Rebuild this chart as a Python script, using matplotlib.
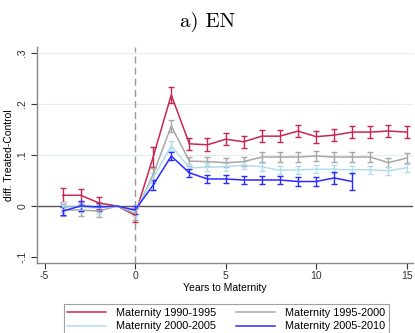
import matplotlib.pyplot as plt
import numpy as np

plt.rcParams['font.family'] = ['Liberation Sans', 'DejaVu Sans']

years = [-4, -3, -2, -1, 0, 1, 2, 3, 4, 5, 6, 7, 8, 9, 10, 11, 12, 13, 14, 15]

m1990 = [0.021, 0.021, 0.006, 0.0, -0.018, 0.096, 0.218, 0.122, 0.120, 0.131, 0.126, 0.137,
         0.137, 0.147, 0.136, 0.139, 0.145, 0.145, 0.147, 0.145]
m1990_err = [0.014, 0.013, 0.012, np.nan, 0.014, 0.02, 0.016, 0.012, 0.013, 0.012, 0.012, 0.012,
             0.012, 0.012, 0.012, 0.012, 0.012, 0.012, 0.012, 0.012]

m1995 = [-0.008, -0.008, -0.010, 0.0, -0.015, 0.062, 0.157, 0.088, 0.087, 0.085, 0.087, 0.096,
         0.096, 0.096, 0.098, 0.096, 0.096, 0.096, 0.085, 0.094]
m1995_err = [0.012, 0.012, 0.012, np.nan, 0.012, 0.012, 0.011, 0.009, 0.009, 0.009, 0.009, 0.009,
             0.009, 0.009, 0.009, 0.009, 0.009, 0.009, 0.009, 0.009]

m2000 = [-0.002, -0.002, -0.004, 0.0, -0.010, 0.055, 0.118, 0.075, 0.076, 0.077, 0.080, 0.077,
         0.070, 0.071, 0.072, 0.072, 0.071, 0.071, 0.069, 0.075]
m2000_err = [0.010, 0.010, 0.010, np.nan, 0.010, 0.010, 0.010, 0.008, 0.008, 0.008, 0.008, 0.008,
             0.008, 0.008, 0.008, 0.008, 0.008, 0.008, 0.008, 0.008]

m2005 = [-0.010, 0.0, -0.002, 0.0, -0.008, 0.041, 0.098, 0.065, 0.053, 0.053, 0.051, 0.051,
         0.051, 0.048, 0.048, 0.055, 0.048]
m2005_err = [0.008, 0.009, 0.008, np.nan, 0.008, 0.009, 0.008, 0.008, 0.008, 0.008, 0.008, 0.008,
             0.008, 0.009, 0.008, 0.011, 0.017]

labels = ['Maternity 1990-1995', 'Maternity 1995-2000', 'Maternity 2000-2005', 'Maternity 2005-2010']
colors = ['#c8284f', '#a8a8a8', '#b2dcea', '#2b2bff']

fig = plt.figure(figsize=(4.15, 3.33), dpi=100)
ax = fig.add_axes([0.089, 0.21, 0.906, 0.649])

ax.axhline(0.1, color='#e4eef0', lw=0.8, zorder=0)
ax.axhline(0.2, color='#e4eef0', lw=0.8, zorder=0)
ax.axhline(0.3, color='#e4eef0', lw=0.8, zorder=0)
ax.axhline(0, color='#555555', lw=1.0, zorder=1)
ax.axvline(0, color='#999999', lw=1.0, ls=(0, (5, 3)), zorder=1)

series = [(m1990, m1990_err), (m1995, m1995_err), (m2000, m2000_err), (m2005, m2005_err)]
handles = []
for (vals, errs), col, lab in zip(series, colors, labels):
    x = years[:len(vals)]
    eb = ax.errorbar(x, vals, yerr=errs, color=col, lw=1.1, elinewidth=1.0,
                     capsize=2, capthick=1.0, label=lab, zorder=3)
    handles.append(eb.lines[0])

ax.set_xlim(-5.42, 15.35)
ax.set_ylim(-0.112, 0.312)
ax.set_xticks([-5, 0, 5, 10, 15])
ax.set_xticklabels(['-5', '0', '5', '10', '15'])
ax.set_yticks([-0.1, 0, 0.1, 0.2, 0.3])
ax.set_yticklabels(['-.1', '0', '.1', '.2', '.3'], rotation=90, va='center')
ax.tick_params(colors='#333333', labelsize=7.5, length=4, width=0.8)
ax.tick_params(axis='y', pad=3)
ax.tick_params(axis='x', pad=2)
for s in ['top', 'right']:
    ax.spines[s].set_visible(False)
for s in ['left', 'bottom']:
    ax.spines[s].set_color('#888888')
    ax.spines[s].set_linewidth(1.0)

ax.set_xlabel('Years to Maternity', fontsize=7.5, labelpad=1)
ax.set_ylabel('diff. Treated-Control', fontsize=7.5, labelpad=2)

fig.text(0.5, 0.935, 'a) EN', ha='center', va='center', fontsize=15, family='cmr10')

# legend is filled row by row: 1990, 1995 on top, 2000, 2005 below
order = [0, 2, 1, 3]
leg = fig.legend([handles[i] for i in order], [labels[i] for i in order],
                 loc='upper center', bbox_to_anchor=(0.545, 0.104), ncol=2,
                 fontsize=7.8, frameon=True, fancybox=False, edgecolor='#888888',
                 handlelength=3.6, columnspacing=1.8, handletextpad=0.9, borderpad=0.35,
                 labelspacing=0.35)
leg.get_frame().set_linewidth(0.8)

fig.savefig('out.png', dpi=100)
